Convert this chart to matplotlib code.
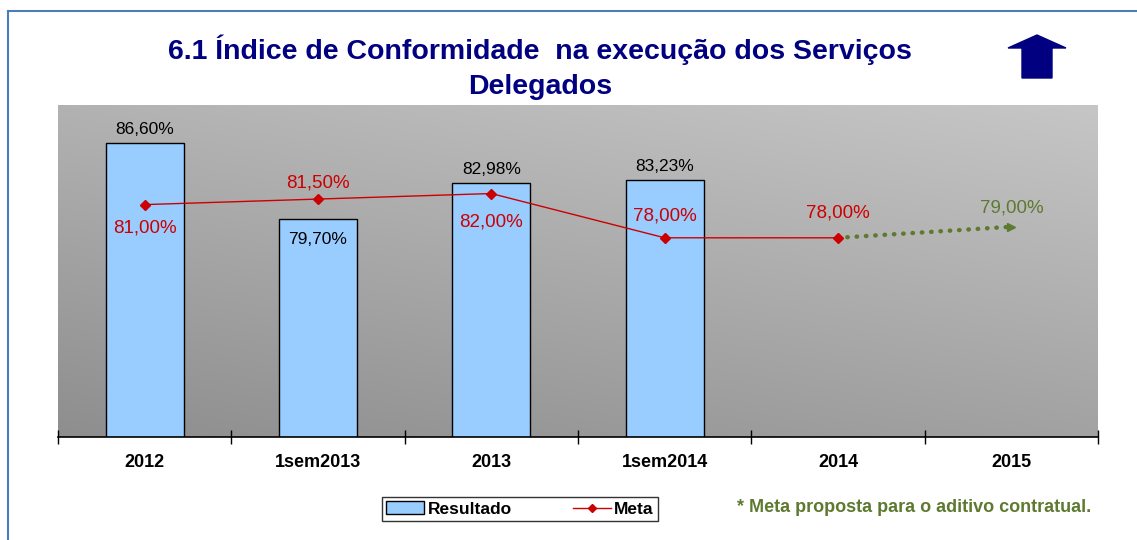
import numpy as np
import matplotlib.pyplot as plt
from matplotlib.patches import Polygon, Patch
from matplotlib.lines import Line2D

plt.rcParams['font.family'] = ['Liberation Sans', 'DejaVu Sans']

categorias = ['2012', '1sem2013', '2013', '1sem2014', '2014', '2015']
resultado = [86.60, 79.70, 82.98, 83.23]
meta = [81.00, 81.50, 82.00, 78.00, 78.00]
meta_proposta = [78.00, 79.00]

W, H = 1137, 540
fig = plt.figure(figsize=(W / 100, H / 100), dpi=100)
ax = fig.add_axes([58 / W, 1 - 437 / H, (1098 - 58) / W, (437 - 105) / H])

# gradient background (darker bottom-left, lighter top-right)
gx, gy = np.meshgrid(np.linspace(0, 1, 200), np.linspace(0, 1, 200))
g = (142 + 20 * gx + 36 * gy) / 255
ax.imshow(np.dstack([g, g, g]), extent=[0, 1, 0, 1], transform=ax.transAxes,
          origin='lower', aspect='auto', zorder=0)

x = np.arange(len(categorias))
ax.bar(x[:len(resultado)], resultado, width=0.45, bottom=0, color='#99ccff',
       edgecolor='black', linewidth=1, zorder=2)
ax.plot(x[:len(meta)], meta, color='#cc0000', lw=1, marker='D', ms=5, zorder=4)
ax.plot(x[4:6], meta_proposta, color='#5E7A30', lw=3.2, ls=(0, (0.1, 2.0)),
        dash_capstyle='round', zorder=3)
ax.plot(x[5], meta_proposta[1], marker='>', color='#5E7A30', ms=6, zorder=3)

ax.set_xlim(-0.5, 5.5)
ax.set_ylim(60, 90)

# labels on bars
for i, v in enumerate(resultado):
    lab = f'{v:.2f}%'.replace('.', ',')
    off = -21 if i == 1 else 13
    ax.annotate(lab, (x[i], v), xytext=(0, off), textcoords='offset pixels',
                ha='center', va='center', fontsize=12.5, zorder=5)

meta_off = [-23, 16, -28, 22, 25]
for i, v in enumerate(meta):
    lab = f'{v:.2f}%'.replace('.', ',')
    ax.annotate(lab, (x[i], v), xytext=(0, meta_off[i]), textcoords='offset pixels',
                ha='center', va='center', fontsize=13.5, color='#cc0000', zorder=5)
ax.annotate(f'{meta_proposta[1]:.2f}%'.replace('.', ','), (x[5], meta_proposta[1]),
            xytext=(0, 19), textcoords='offset pixels', ha='center', va='center',
            fontsize=13.5, color='#5E7A30', zorder=5)

for s in ['top', 'right', 'left']:
    ax.spines[s].set_visible(False)
ax.spines['bottom'].set_linewidth(1.2)
ax.set_yticks([])
ax.set_xticks(x, categorias, fontsize=13, fontweight='bold')
ax.tick_params(axis='x', which='major', length=0, pad=12)
ax.set_xticks(np.arange(-0.5, 6, 1), minor=True)
ax.tick_params(axis='x', which='minor', direction='inout', length=10, width=1)

# title
fig.text(540 / W, 1 - 50 / H, '6.1 Índice de Conformidade  na execução dos Serviços',
         ha='center', va='center', fontsize=20.5, fontweight='bold', color='#000080')
fig.text(540 / W, 1 - 87 / H, 'Delegados', ha='center', va='center',
         fontsize=20.5, fontweight='bold', color='#000080')

# arrow
pts = [(1037, 35), (1066, 48), (1052, 48), (1052, 78), (1022, 78), (1022, 48), (1008, 48)]
fig.patches.append(Polygon([(px / W, 1 - py / H) for px, py in pts], closed=True,
                           transform=fig.transFigure, color='#000080'))

# frame lines
fig.add_artist(Line2D([8 / W, 8 / W], [0, 1 - 11 / H], color='#4a7ebb', lw=1.5,
                      transform=fig.transFigure))
fig.add_artist(Line2D([8 / W, 1], [1 - 11 / H, 1 - 11 / H], color='#4a7ebb', lw=1.5,
                      transform=fig.transFigure))

# legend
handles = [Patch(facecolor='#99ccff', edgecolor='black', lw=1),
           Line2D([], [], color='#cc0000', lw=1, marker='D', ms=4)]
leg = fig.legend(handles, ['Resultado', 'Meta'], loc='center',
                 bbox_to_anchor=(520 / W, 1 - 509 / H), ncol=2, frameon=True,
                 fancybox=False, edgecolor='black', prop={'weight': 'bold', 'size': 12.5},
                 handlelength=2.2, handletextpad=0.2, columnspacing=3.5,
                 borderpad=0.25, borderaxespad=0)
leg.get_frame().set_linewidth(1)

fig.text(914 / W, 1 - 507 / H, '* Meta proposta para o aditivo contratual.',
         ha='center', va='center', fontsize=13, fontweight='bold', color='#5E7A30')

fig.savefig('out.png', dpi=100)
